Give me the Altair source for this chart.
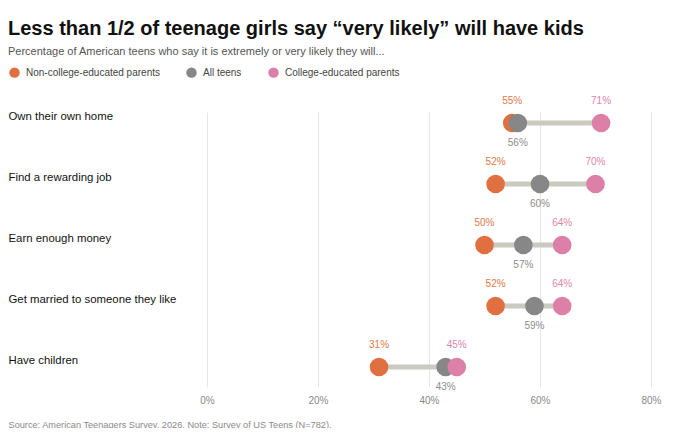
import altair as alt
import pandas as pd

categories = ["Own their own home", "Find a rewarding job", "Earn enough money",
              "Get married to someone they like", "Have children"]
series = ["Non-college-educated parents", "All teens", "College-educated parents"]
non_college = [55, 52, 50, 52, 31]
all_teens = [56, 60, 57, 59, 43]
college = [71, 70, 64, 64, 45]
ticks = [0, 20, 40, 60, 80]

ORANGE, GRAY, PINK = "#E07040", "#878787", "#DC80A8"
LBL = {series[0]: "#E2784A", series[1]: "#8C8C8C", series[2]: "#DE85AC"}
FONT = "Liberation Sans"

rows = []
for i, c in enumerate(categories):
    for s, vals in zip(series, [non_college, all_teens, college]):
        rows.append({"category": c, "series": s, "value": vals[i],
                     "label": f"{vals[i]}%", "order": series.index(s)})
long = pd.DataFrame(rows)
wide = pd.DataFrame({
    "category": categories,
    "lo": [min(a, b, c) for a, b, c in zip(non_college, all_teens, college)],
    "hi": [max(a, b, c) for a, b, c in zip(non_college, all_teens, college)],
})

y_scale = alt.Scale(type="point", domain=categories, padding=0.254, align=0.355)
y_axis = alt.Axis(title=None, domain=False, ticks=False, grid=False,
                  labelAlign="left", labelPadding=199, labelOffset=-7,
                  labelFontSize=11.4, labelColor="#111", labelFont=FONT,
                  labelLimit=300)


def y_enc():
    return alt.Y("category:N", sort=categories, scale=y_scale, axis=y_axis)


x_scale = alt.Scale(domain=[0, 80], nice=False)
x_axis = alt.Axis(values=ticks, labelExpr="datum.value + '%'", grid=True,
                  gridColor="#E6E6E6", domain=False, ticks=False, labelFlush=False,
                  labelColor="#8A8A8A", labelFontSize=10, labelPadding=8,
                  labelFont=FONT,
                  title="Source: American Teenagers Survey, 2026. Note: Survey of US Teens (N=782).",
                  titleX=-199, titleY=37, titleAlign="left",
                  titleBaseline="middle", titleFontSize=9.2,
                  titleColor="#8A8A8A", titleFontWeight="normal",
                  titleFont=FONT)

base_rule = alt.Chart(wide).mark_rule(strokeWidth=5, color="#CACAC0").encode(
    x=alt.X("lo:Q", scale=x_scale, axis=x_axis),
    x2="hi:Q",
    y=y_enc(),
)

points = alt.Chart(long).mark_circle(size=346, opacity=1).encode(
    x=alt.X("value:Q", scale=x_scale, axis=x_axis),
    y=y_enc(),
    color=alt.Color("series:N",
                    scale=alt.Scale(domain=series, range=[ORANGE, GRAY, PINK]),
                    legend=alt.Legend(title=None, orient="none", direction="horizontal",
                                      legendX=-198, legendY=-45, symbolSize=110,
                                      symbolType="circle", labelFontSize=10,
                                      labelColor="#444", labelFont=FONT,
                                      columnPadding=26, symbolStrokeWidth=0,
                                      symbolOpacity=1, labelOffset=6)),
    order=alt.Order("order:Q"),
)


def text_layer(s, dy):
    return alt.Chart(long).transform_filter(
        alt.datum.series == s
    ).mark_text(dy=dy, fontSize=10, font=FONT, color=LBL[s]).encode(
        x=alt.X("value:Q", scale=x_scale, axis=x_axis),
        y=y_enc(),
        text="label:N",
    )


chart = alt.layer(
    base_rule, points,
    text_layer(series[0], -22), text_layer(series[2], -22), text_layer(series[1], 20),
).properties(
    width=444, height=275,
    autosize=alt.AutoSizeParams(type="none"),
    padding={"left": 199, "top": 104, "right": 21, "bottom": 41},
    title=alt.TitleParams(
        text="Less than 1/2 of teenage girls say \u201cvery likely\u201d will have kids",
        subtitle="Percentage of American teens who say it is extremely or very likely they will...",
        anchor="start", frame="bounds", font=FONT, fontSize=20, fontWeight="bold",
        color="#111", subtitleFont=FONT, subtitleFontSize=11, subtitleColor="#555",
        subtitlePadding=7, offset=10,
    ),
).configure(font=FONT).configure_view(stroke=None)

chart.save("out.html", embed_options={"renderer": "svg", "actions": False})
